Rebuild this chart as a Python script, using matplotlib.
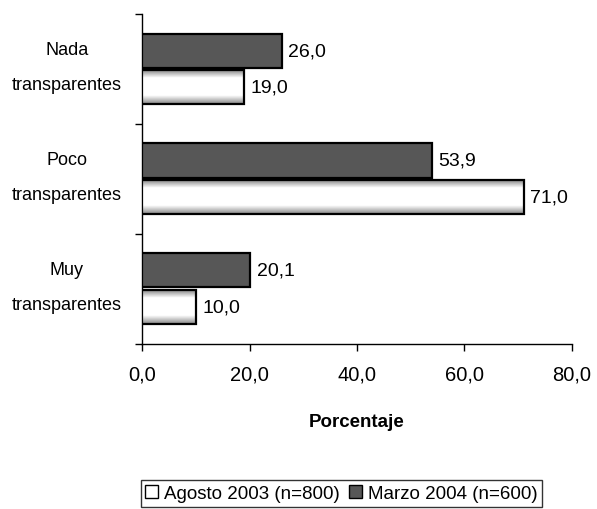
import numpy as np
import matplotlib.pyplot as plt
from matplotlib.patches import Patch

categories = ["Nada\ntransparentes", "Poco\ntransparentes", "Muy\ntransparentes"]
marzo_2004 = [26.0, 53.9, 20.1]
agosto_2003 = [19.0, 71.0, 10.0]
series_names = ["Agosto 2003 (n=800)", "Marzo 2004 (n=600)"]
x_ticks = [0, 20, 40, 60, 80]

sans = ["Liberation Sans", "DejaVu Sans"]

fig = plt.figure(figsize=(5.97, 5.10), dpi=100)
ax = fig.add_axes([0.238, 0.3235, 0.72, 0.6465])

pos = np.arange(len(categories))[::-1]
h = 0.31
dark = ax.barh(pos + 0.17, marzo_2004, height=h, color="#575757",
               edgecolor="black", linewidth=1.6, zorder=3)
light = ax.barh(pos - 0.16, agosto_2003, height=h, color="white",
                edgecolor="black", linewidth=1.6, zorder=3)

# soft grey shading on the top and bottom of the white bars
grad = np.concatenate([np.linspace(0.55, 1, 8), np.ones(14), np.linspace(1, 0.5, 8)])
for b in light:
    x0, y0 = b.get_x(), b.get_y()
    w, hh = b.get_width(), b.get_height()
    im = ax.imshow(grad[:, None], cmap="gray", vmin=0, vmax=1, aspect="auto",
                   extent=[x0, x0 + w, y0, y0 + hh], origin="lower",
                   interpolation="bilinear", zorder=3.5)
    im.set_clip_path(b)
    b.set_facecolor("none")
    b.set_zorder(4)

for bars, vals in [(dark, marzo_2004), (light, agosto_2003)]:
    for b, v in zip(bars, vals):
        ax.text(v + 1.2, b.get_y() + b.get_height() / 2, f"{v:.1f}".replace(".", ","),
                va="center", ha="left", fontsize=14, family=sans)

ax.set_xlim(0, 80)
ax.set_ylim(-0.5, 2.5)
ax.set_xticks(x_ticks)
ax.set_xticklabels([f"{t:.1f}".replace(".", ",") for t in x_ticks], fontsize=14.5, family=sans)
ax.set_yticks([-0.5, 0.5, 1.5, 2.5])
ax.set_yticklabels([])
ax.tick_params(axis="y", length=5, width=1)
ax.tick_params(axis="x", length=5, width=1, pad=10)
for p, c in zip(pos, categories):
    ax.text(-14, p + 0.02, c, ha="center", va="center", fontsize=13, family=sans,
            linespacing=2.35, clip_on=False)

for s in ["top", "right"]:
    ax.spines[s].set_visible(False)
ax.spines["left"].set_linewidth(1)
ax.spines["bottom"].set_linewidth(1)

ax.set_xlabel("Porcentaje", fontsize=13.5, fontweight="bold", family=sans, labelpad=21)

handles = [Patch(facecolor="white", edgecolor="black", label=series_names[0]),
           Patch(facecolor="#575757", edgecolor="black", label=series_names[1])]
fig.legend(handles=handles, loc="center", bbox_to_anchor=(0.572, 0.03), ncol=2,
           frameon=True, fancybox=False, edgecolor="black",
           prop={"family": sans, "size": 13.5}, handlelength=0.7, handleheight=0.7,
           handletextpad=0.3, columnspacing=0.5, borderpad=0.25)

fig.savefig("out.png", dpi=100)
